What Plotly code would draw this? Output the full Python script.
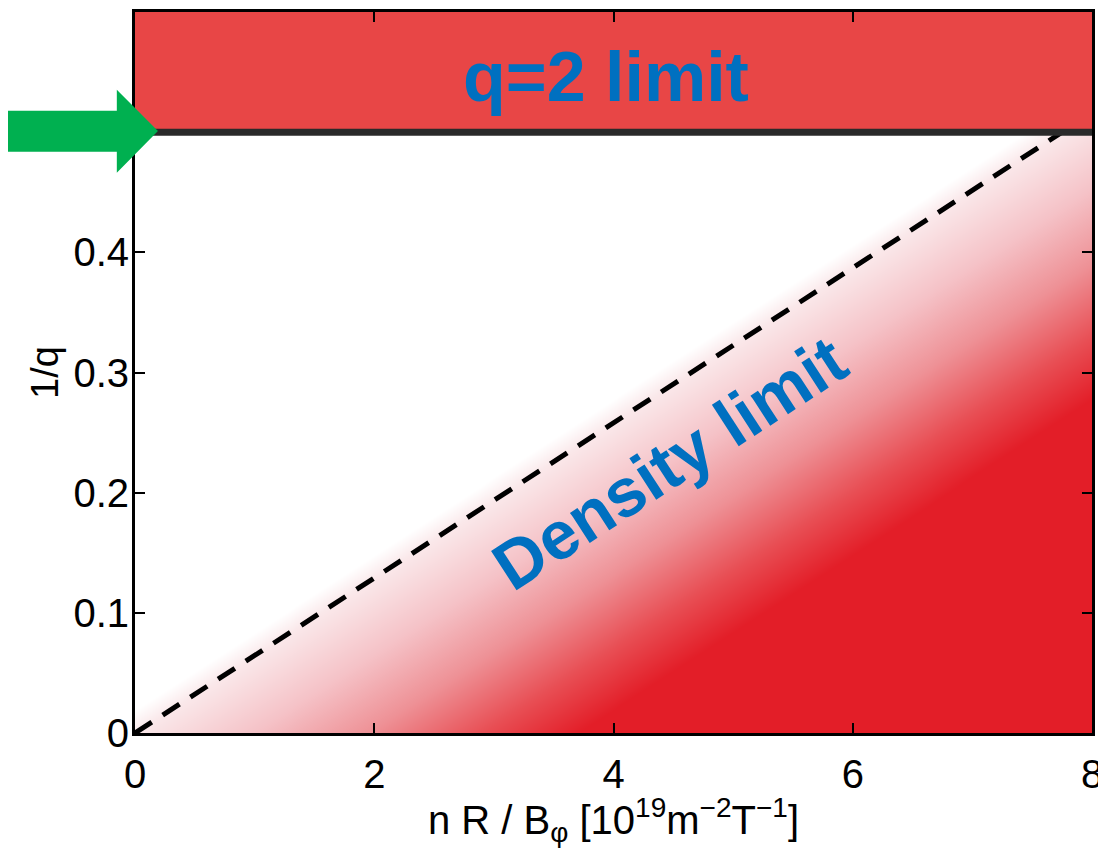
import numpy as np
import plotly.graph_objects as go

# ---- data ----
x_range = [0, 8]
y_range = [0, 0.6]
x_ticks = [0, 2, 4, 6, 8]
x_tick_text = ["0", "2", "4", "6", "8"]
y_ticks = [0, 0.1, 0.2, 0.3, 0.4]
y_tick_text = ["0", "0.1", "0.2", "0.3", "0.4"]
density_limit_x = [0, 7.75]
density_limit_y = [0, 0.5]
q2_limit = 0.5

# shading beyond the density limit: distance past the dashed line (fades white -> red)
slope = density_limit_x[1] / density_limit_y[1]
gx = np.linspace(0, 8, 161)
gy = np.linspace(0, q2_limit, 101)
GX, GY = np.meshgrid(gx, gy)
Z = GX - slope * GY

FONT = "Liberation Sans, Arial, sans-serif"
BLUE = "#0070C0"

fig = go.Figure()

fig.add_trace(go.Heatmap(
    x=gx, y=gy, z=Z, zmin=-0.3, zmax=3.7, zsmooth="best", showscale=False,
    hoverinfo="skip",
    colorscale=[
        [0.0, "rgb(255,255,255)"],
        [0.075, "rgb(250,232,234)"],
        [0.32, "rgb(245,194,199)"],
        [0.56, "rgb(238,145,150)"],
        [0.8, "rgb(232,78,84)"],
        [1.0, "rgb(227,30,40)"],
    ],
))

fig.add_trace(go.Scatter(
    x=density_limit_x, y=density_limit_y, mode="lines",
    line=dict(color="black", width=5, dash="20px,13px"),
    showlegend=False, hoverinfo="skip",
))

# q=2 band
fig.add_shape(type="rect", xref="x", yref="y", x0=x_range[0], x1=x_range[1],
              y0=q2_limit, y1=y_range[1], fillcolor="#E84646",
              line=dict(width=0), layer="below")
fig.add_shape(type="line", xref="x", yref="y", x0=x_range[0], x1=x_range[1],
              y0=q2_limit, y1=q2_limit, line=dict(color="#2a2a2a", width=7),
              layer="above")

# green arrow (paper coordinates, extends into left margin)
fig.add_shape(type="path", xref="paper", yref="paper",
              path="M -0.16 0.806 L -0.019 0.806 L -0.019 0.777 L 0.024 0.835 "
                   "L -0.019 0.892 L -0.019 0.863 L -0.16 0.863 Z",
              fillcolor="#00B050", line=dict(width=0), layer="above")

fig.add_annotation(x=3.94, y=0.546, xref="x", yref="y", text="<b>q=2 limit</b>",
                   showarrow=False, font=dict(family=FONT, size=70, color=BLUE))
fig.add_annotation(x=4.46, y=0.225, xref="x", yref="y", text="<b>Density limit</b>",
                   textangle=-33, showarrow=False,
                   font=dict(family=FONT, size=68, color=BLUE))

axis_common = dict(
    showgrid=False, zeroline=False, showline=True, linecolor="black", linewidth=3,
    mirror="ticks", ticks="inside", ticklen=10, tickwidth=2, tickcolor="black",
    tickfont=dict(family=FONT, size=40, color="black"), ticklabeloverflow="allow",
)

fig.update_xaxes(range=x_range, tickvals=x_ticks, ticktext=x_tick_text,
                 ticklabelstandoff=4,
                 title=dict(text="n R / B<sub>φ</sub> [10<sup>19</sup>m<sup>−2</sup>T<sup>−1</sup>]",
                            font=dict(family=FONT, size=40, color="black"), standoff=10),
                 **axis_common)
fig.update_yaxes(range=y_range, tickvals=y_ticks, ticktext=y_tick_text,
                 ticklabelstandoff=-5,
                 title=dict(text="1/q", font=dict(family=FONT, size=38, color="black"), standoff=4),
                 **axis_common)

# page body has an 8px margin; size and margins compensate so the plot area
# lands where the reference has it and the page does not overflow the window
fig.update_layout(
    width=1096, height=840,
    margin=dict(l=127, r=12, t=4, b=115, autoexpand=False),
    paper_bgcolor="white", plot_bgcolor="white",
    showlegend=False,
)

fig.write_html("out.html")
